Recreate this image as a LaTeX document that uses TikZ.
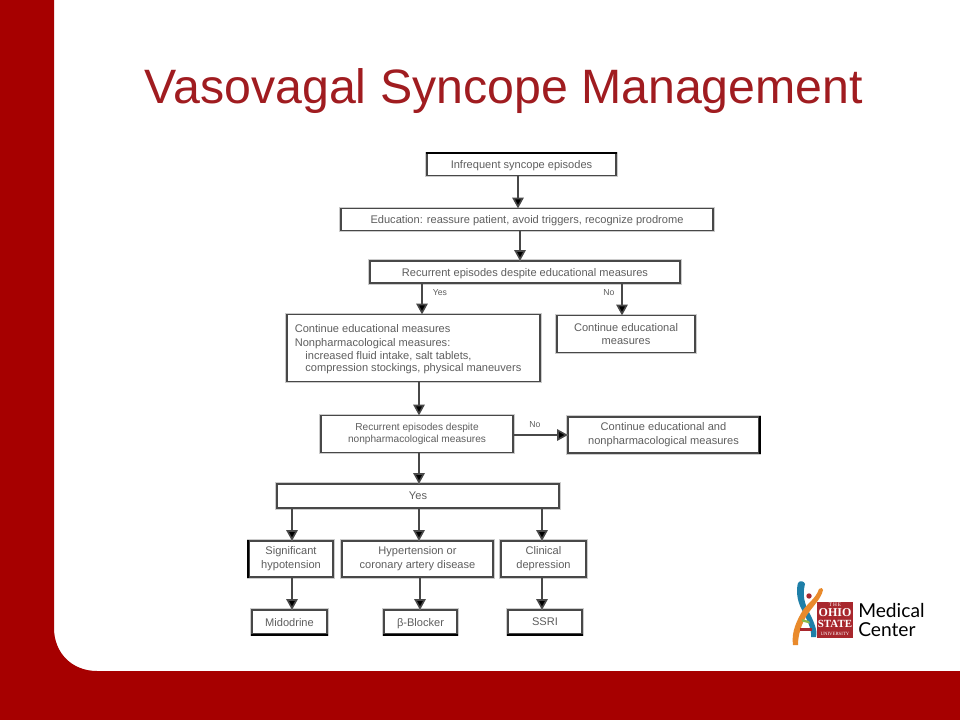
\documentclass[tikz,border=0pt]{standalone}
\usepackage{fontspec}
\setmainfont{Liberation Sans}
\newfontfamily\logofont{Lato}
\newfontfamily\logoserif{Liberation Serif}
\usetikzlibrary{arrows.meta}
\definecolor{bandred}{HTML}{A60000}
\definecolor{titlered}{HTML}{A01C20}
\definecolor{inkgray}{HTML}{484848}
\definecolor{txtgray}{HTML}{5E5E5E}
\definecolor{logoblue}{HTML}{1E7FA8}
\definecolor{logoorange}{HTML}{E98A2B}
\definecolor{logored}{HTML}{A8272D}
\definecolor{logogreen}{HTML}{8DB84A}
\newcommand{\pxu}{0.75pt}
\tikzset{
  x=0.75pt,y=-0.75pt,
  flowbox/.style={draw=inkgray,line width=1.2pt,fill=white,inner sep=0pt,align=center,
    text=txtgray,font=\fontsize{8.3}{10.3}\selectfont,
    preaction={draw=gray!40,line width=2.4pt}},
  leftline/.style={text=txtgray,align=left,anchor=north west,inner sep=0pt},
  conn/.style={draw=inkgray,line width=1.2pt,-{Triangle[length=8pt,width=8.5pt,fill=black]},shorten >=-0.5pt,
    preaction={draw=gray!40,line width=2.2pt,-{Triangle[length=1pt,width=1pt]}}},
  edgelabel/.style={text=txtgray,font=\fontsize{6.5}{7}\selectfont,inner sep=0pt},
  cropedge/.style={draw=black,line width=1.6pt},
  titletext/.style={text=titlered,font=\fontsize{36.2}{40}\selectfont,inner sep=0pt,anchor=base},
  logotext/.style={text=black,font=\logofont\fontsize{14.4}{18}\selectfont,inner sep=0pt,anchor=base west},
  logosmall/.style={text=white,inner sep=0pt}
}
\begin{document}
\begin{tikzpicture}
\useasboundingbox (0,0) rectangle (960,720);
% background and bands
\fill[white] (0,0) rectangle (960,720);
\fill[bandred] (0,0) -- (54,0) -- (54,628) .. controls (54,653) and (72,671) .. (97,671) -- (960,671) -- (960,720) -- (0,720) -- cycle;
% title
\node[titletext] (title) at (504,103.5) {Vasovagal Syncope Management};
% flow boxes
\node[flowbox,text depth=0pt,minimum width=189*\pxu,minimum height=22*\pxu] (b1) at (521.5,164.5) {Infrequent syncope episodes};
\node[flowbox,text depth=0pt,minimum width=372*\pxu,minimum height=22*\pxu] (b2) at (527,219.5) {Education: reassure patient, avoid triggers, recognize prodrome};
\node[flowbox,text depth=0pt,minimum width=310*\pxu,minimum height=22*\pxu] (b3) at (525,272) {Recurrent episodes despite educational measures};
\node[flowbox,minimum width=253*\pxu,minimum height=67*\pxu] (b4) at (413.5,348) {};
\node[leftline,font=\fontsize{8.3}{10}\selectfont] (b4a) at (294.5,324) {Continue educational measures};
\node[leftline,font=\fontsize{8.3}{9.4}\selectfont] (b4b) at (294.5,338.5) {Nonpharmacological measures:\\\hspace{8pt}increased fluid intake, salt tablets,\\\hspace{8pt}compression stockings, physical maneuvers};
\node[flowbox,minimum width=138*\pxu,minimum height=37*\pxu] (b5) at (626,334) {Continue educational\\measures};
\node[flowbox,minimum width=192*\pxu,minimum height=37*\pxu,font=\fontsize{7.6}{9}\selectfont] (b6) at (417,434) {Recurrent episodes despite\\nonpharmacological measures};
\node[flowbox,minimum width=191*\pxu,minimum height=36*\pxu] (b7) at (663.5,435) {Continue educational and\\nonpharmacological measures};
\node[flowbox,text depth=0pt,minimum width=282*\pxu,minimum height=24*\pxu] (b8) at (418,496) {Yes};
\node[flowbox,minimum width=84*\pxu,minimum height=36*\pxu] (c1) at (291,559) {Significant\\hypotension};
\node[flowbox,minimum width=151*\pxu,minimum height=36*\pxu] (c2) at (417.5,559) {Hypertension or\\coronary artery disease};
\node[flowbox,minimum width=85*\pxu,minimum height=36*\pxu] (c3) at (543.5,559) {Clinical\\depression};
\node[flowbox,text depth=0pt,minimum width=75*\pxu,minimum height=24*\pxu] (d1) at (289.5,622) {Midodrine};
\node[flowbox,text depth=0pt,minimum width=73*\pxu,minimum height=24*\pxu] (d2) at (420.5,622) {β-Blocker};
\node[flowbox,text depth=0pt,minimum width=74*\pxu,minimum height=24*\pxu] (d3) at (545,622) {SSRI};
% the source image's crop edges print darker on these sides
\draw[cropedge] (b1.north west) -- (b1.north east);
\draw[cropedge] (b7.north east) -- (b7.south east);
\draw[cropedge] (c1.north west) -- (c1.south west);
\draw[cropedge] (d1.south west) -- (d1.south east);
\draw[cropedge] (d2.south west) -- (d2.south east);
\draw[cropedge] (d3.south west) -- (d3.south east);
% connector columns
\coordinate (xa) at (518,0);
\coordinate (xb) at (520,0);
\coordinate (xc) at (422,0);
\coordinate (xd) at (622,0);
\coordinate (xe) at (419,0);
\coordinate (xf) at (292,0);
\coordinate (xg) at (542,0);
\coordinate (xh) at (420,0);
\coordinate (ya) at (0,435);
% connectors
\draw[conn] (b1.south -| xa) -- (b2.north -| xa);
\draw[conn] (b2.south -| xb) -- (b3.north -| xb);
\draw[conn] (b3.south -| xc) -- (b4.north -| xc);
\draw[conn] (b3.south -| xd) -- (b5.north -| xd);
\draw[conn] (b4.south -| xe) -- (b6.north -| xe);
\draw[conn] (b6.east |- ya) -- (b7.west |- ya);
\draw[conn] (b6.south -| xe) -- (b8.north -| xe);
\draw[conn] (b8.south -| xf) -- (c1.north -| xf);
\draw[conn] (b8.south -| xe) -- (c2.north -| xe);
\draw[conn] (b8.south -| xg) -- (c3.north -| xg);
\draw[conn] (c1.south -| xf) -- (d1.north -| xf);
\draw[conn] (c2.south -| xh) -- (d2.north -| xh);
\draw[conn] (c3.south -| xg) -- (d3.north -| xg);
% edge labels
\node[edgelabel] (ly) at (440,293) {Yes};
\node[edgelabel] (ln) at (609,293) {No};
\node[edgelabel] (ln2) at (535,425) {No};
% logo
\fill[logored] (817,602) rectangle (853,638);
\node[logosmall,font=\logoserif\fontsize{4}{4}\selectfont] (lt) at (835,605) {T\,H\,E};
\node[logosmall,font=\logoserif\bfseries\fontsize{9}{9}\selectfont] (lo) at (835,613) {OHIO};
\node[logosmall,font=\logoserif\bfseries\fontsize{8.2}{9}\selectfont] (ls) at (835,624) {STATE};
\node[logosmall,font=\logoserif\fontsize{3.6}{4}\selectfont] (lu) at (835,633.5) {UNIVERSITY};
\fill[logoblue] (798,583) .. controls (800,580) and (804,581) .. (805,584) .. controls (803,592) and (803,600) .. (808,610) .. controls (813,620) and (818,630) .. (816,637) -- (811,637) .. controls (812,628) and (806,618) .. (801,608) .. controls (797,600) and (796,590) .. (798,583) -- cycle;
\fill[logoorange] (819,589) .. controls (821,587) and (823,588) .. (823,590) .. controls (821,599) and (813,606) .. (807,615) .. controls (802,623) and (798,634) .. (798,645) -- (793,645) .. controls (791,632) and (797,620) .. (803,610) .. controls (809,602) and (816,598) .. (819,589) -- cycle;
\fill[logored] (809,596) circle (2.7);
\fill[logogreen] (802,619) -- (809,621) -- (810,623.5) -- (802,621.5) -- cycle;
\fill[logored] (800,628) -- (812,628) -- (812,630.5) -- (800,630.5) -- cycle;
\node[logotext] (m1) at (858,617) {Medical};
\node[logotext] (m2) at (858,636) {Center};
\end{tikzpicture}
\end{document}
